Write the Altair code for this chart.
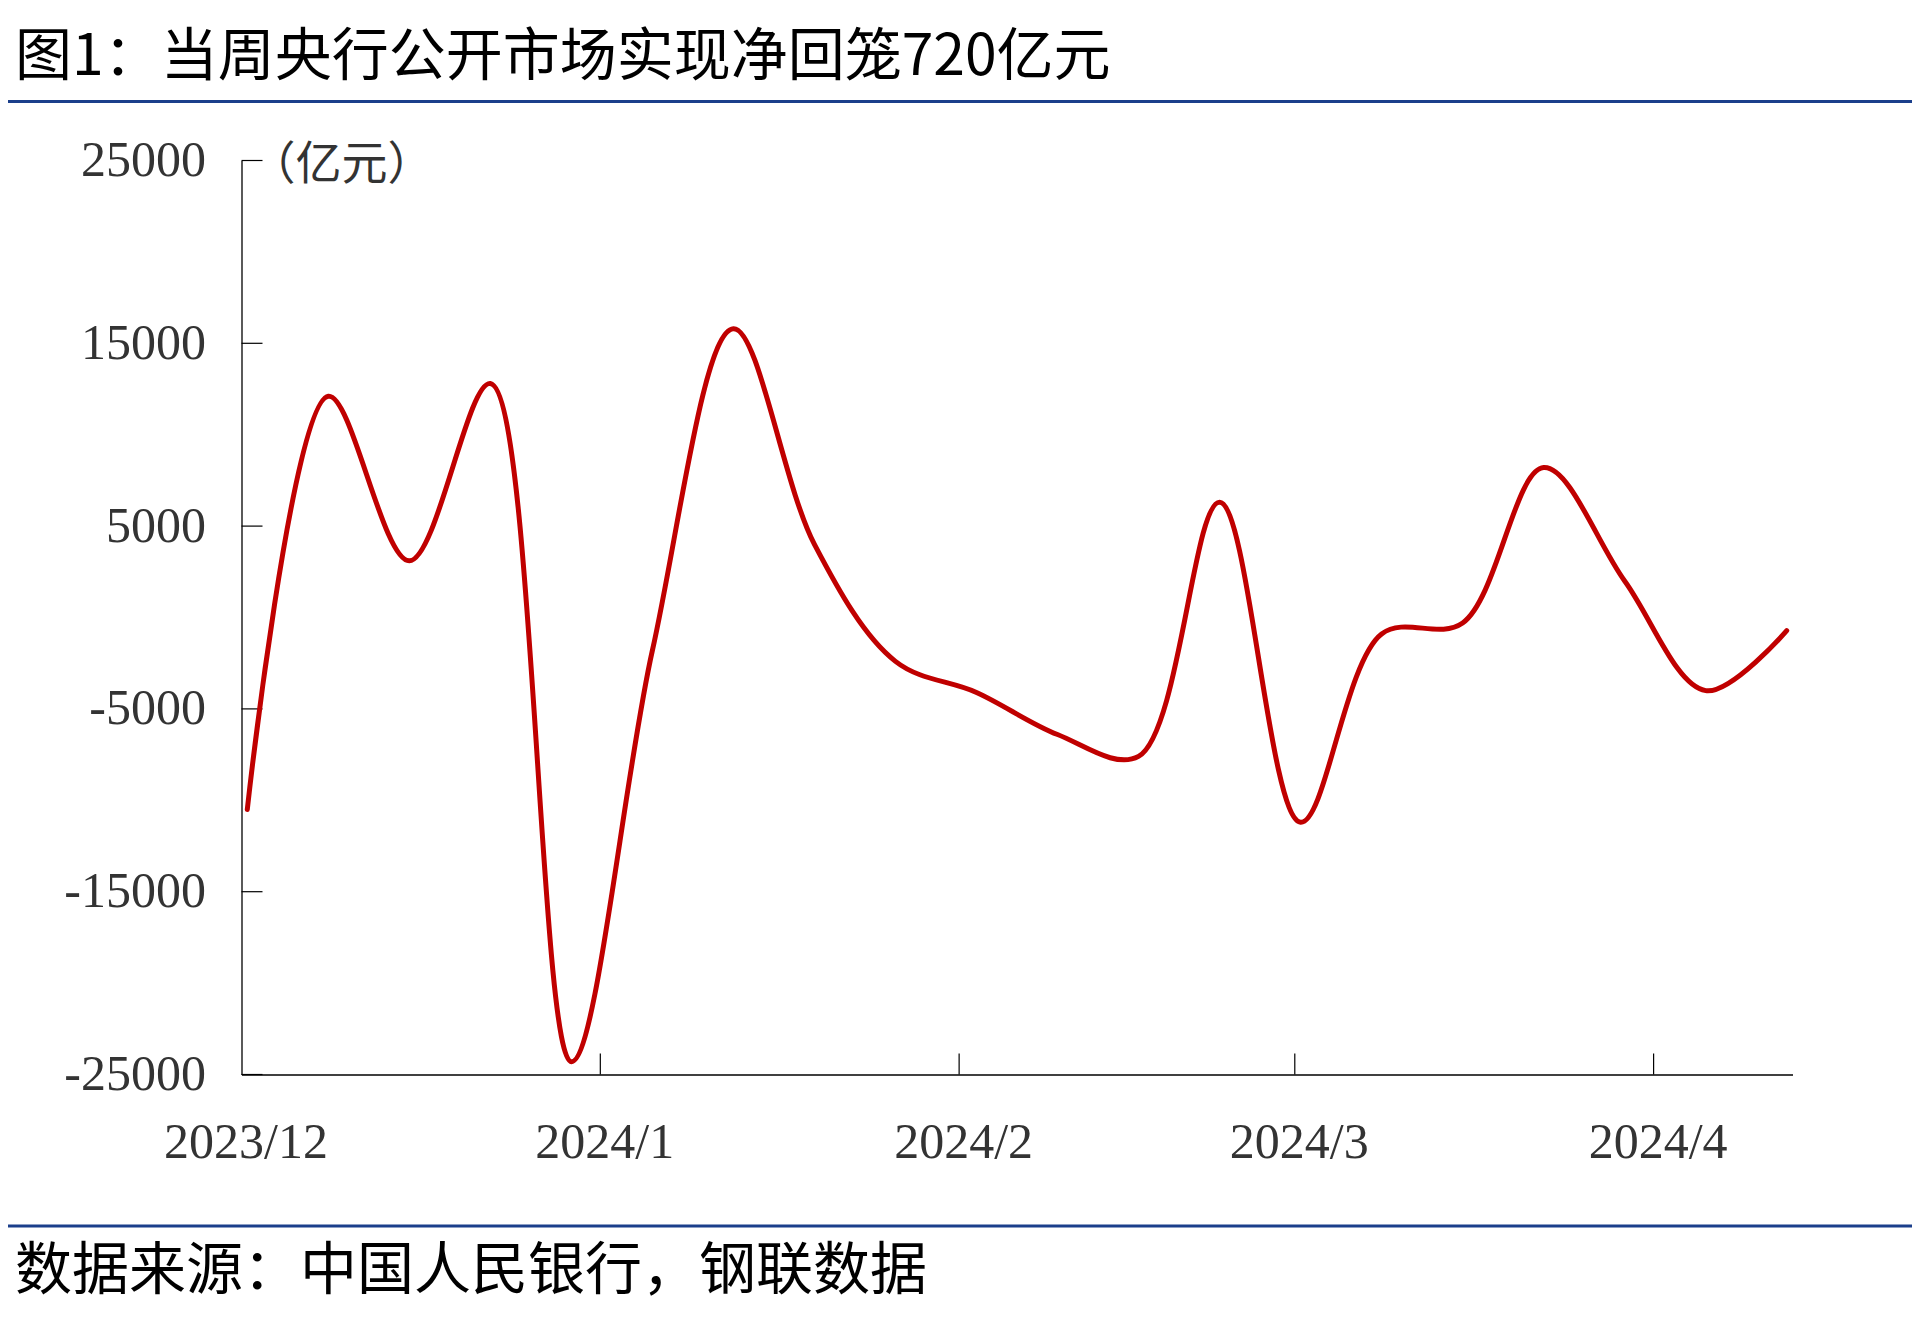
import altair as alt
import pandas as pd

# ---- data (weekly, 亿元) ----
week_dates = ["2023-12-01", "2023-12-08", "2023-12-15", "2023-12-22", "2023-12-29",
              "2024-01-05", "2024-01-12", "2024-01-19", "2024-01-26",
              "2024-02-02", "2024-02-09", "2024-02-16", "2024-02-23",
              "2024-03-01", "2024-03-08", "2024-03-15", "2024-03-22", "2024-03-29",
              "2024-04-05", "2024-04-12"]
net_values = [-10500, 12100, 3100, 12800, -24300,
              -1800, 15800, 4000, -2400,
              -4100, -6400, -7600, 6300,
              -11200, -900, -300, 8200, 2000,
              -4000, -720]

y_tick_values = [-25000, -15000, -5000, 5000, 15000, 25000]
month_ticks = [(2023, 12), (2024, 1), (2024, 2), (2024, 3), (2024, 4)]
inner_month_ticks = ["2024-01-01", "2024-02-01", "2024-03-01", "2024-04-01"]

title_text = "图1：当周央行公开市场实现净回笼720亿元"
source_text = "数据来源：中国人民银行，钢联数据"
unit_text = "（亿元）"

# ---- layout ----
W, H = 1551, 914
PAD_L, PAD_T = 233.5, 152.5
VIEW_W, VIEW_H = 1904, 1300

line_df = pd.DataFrame({"date": [d + "T12:00:00" for d in week_dates], "value": net_values})
ytick_df = pd.DataFrame({"value": y_tick_values})
xtick_df = pd.DataFrame({"date": [d + "T00:00:00" for d in inner_month_ticks]})
one = pd.DataFrame({"a": [0]})

x_scale = alt.Scale(domain=[alt.DateTime(year=2023, month=12, date=1),
                            alt.DateTime(year=2024, month=4, date=13)], nice=False)
y_scale = alt.Scale(domain=[-25000, 25000], nice=False, zero=False)

x_axis = alt.Axis(values=[alt.DateTime(year=y, month=m, date=1) for y, m in month_ticks],
                  format="%Y/%-m", formatType="time",
                  labelFont="Liberation Serif", labelFontSize=50, labelColor="#333333",
                  labelPadding=43, labelOffset=4, ticks=False, tickSize=0, grid=False,
                  domainColor="black", domainWidth=1.3, labelFlush=False,
                  labelOverlap=False, title=None)
y_axis = alt.Axis(values=y_tick_values, labelExpr="'' + datum.value",
                  labelFont="Liberation Serif", labelFontSize=50, labelColor="#333333",
                  labelPadding=36, ticks=False, tickSize=0, grid=False,
                  domainColor="black", domainWidth=1.3, labelFlush=False,
                  labelOverlap=False, title=None)

X = alt.X("date:T", scale=x_scale, axis=x_axis, title=None)
Y = alt.Y("value:Q", scale=y_scale, axis=y_axis, title=None)

line = alt.Chart(line_df).mark_line(
    color="#C00000", strokeWidth=5, interpolate="catmull-rom", strokeCap="round", strokeJoin="round"
).encode(x=X, y=Y)

yticks = alt.Chart(ytick_df).mark_rule(color="black", strokeWidth=1.2).encode(
    y=Y, x=alt.value(0), x2=alt.value(21))

xticks = alt.Chart(xtick_df).mark_rule(color="black", strokeWidth=1.2).encode(
    x=X, y=alt.value(H), y2=alt.value(H - 21))

unit = alt.Chart(one).mark_text(
    text=unit_text, font="Noto Sans CJK SC", fontSize=46, color="#333333",
    align="left", baseline="middle"
).encode(x=alt.value(8), y=alt.value(4))

title = alt.Chart(one).mark_text(
    text=title_text, font="Noto Sans CJK SC", fontSize=57, color="black",
    align="left", baseline="middle"
).encode(x=alt.value(15 - 241.5), y=alt.value(58 - 160.5))

source = alt.Chart(one).mark_text(
    text=source_text, font="Noto Sans CJK SC", fontSize=57, color="black",
    align="left", baseline="middle"
).encode(x=alt.value(15 - 241.5), y=alt.value(1272 - 160.5))

top_rule = alt.Chart(one).mark_rule(color="#1B3F8B", strokeWidth=3).encode(
    x=alt.value(-PAD_L), x2=alt.value(VIEW_W - PAD_L), y=alt.value(101.6 - 160.5))
bottom_rule = alt.Chart(one).mark_rule(color="#1B3F8B", strokeWidth=3).encode(
    x=alt.value(-PAD_L), x2=alt.value(VIEW_W - PAD_L), y=alt.value(1226 - 160.5))

chart = alt.layer(top_rule, bottom_rule, title, source, unit, yticks, xticks, line).properties(
    width=W, height=H,
    autosize=alt.AutoSizeParams(type="none"),
    padding={"left": PAD_L, "top": PAD_T,
             "right": VIEW_W - PAD_L - W, "bottom": VIEW_H - PAD_T - H},
    background="white",
).configure_view(stroke=None)

chart.save("out.html", embed_options={"renderer": "svg", "actions": False})
